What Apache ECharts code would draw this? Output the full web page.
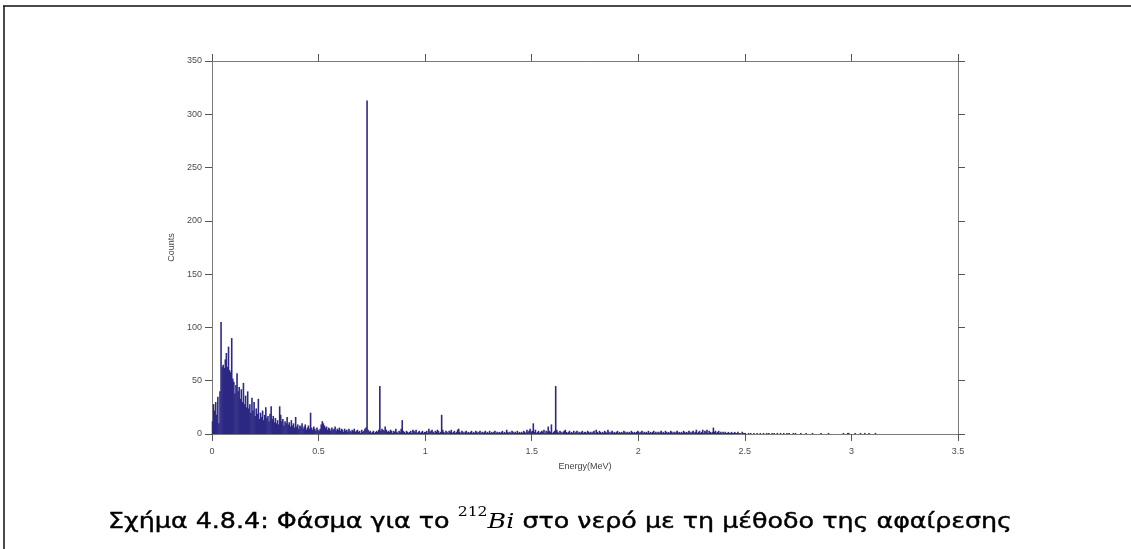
<!DOCTYPE html>
<html>
<head>
<meta charset="utf-8">
<script src="https://cdn.jsdelivr.net/npm/echarts@6/dist/echarts.min.js"></script>
<style>
  html, body { margin: 0; padding: 0; background: #ffffff; }
  #chart { width: 1131px; height: 549px; }
</style>
</head>
<body>
<div id="chart"></div>
<script>
// Bin width of the spectrum (MeV)
const binWidth = 0.005;

// Counts per 0.005 MeV bin, grouped by energy range (start energy given)
const counts000 = [ // 0.000 – 0.245
  12, 28, 22, 30, 18, 35, 10, 40, 105, 63,
  65, 62, 70, 76, 63, 82, 60, 58, 90, 52,
  49, 38, 46, 57, 40, 44, 33, 42, 30, 48,
  28, 36, 25, 40, 24, 28, 20, 34, 22, 30,
  17, 24, 19, 33, 14, 20, 16, 22, 13, 18
];
const counts025 = [ // 0.250 – 0.720
  25, 15, 17, 12, 19, 26, 14, 17, 11, 15,
  10, 13, 9, 26, 18, 12, 14, 8, 12, 10,
  16, 9, 11, 7, 13, 8, 10, 6, 16, 7,
  9, 5, 8, 7, 10, 5, 7, 9, 4, 6,
  8, 5, 20, 6, 4, 7, 5, 3, 6, 4,
  3, 5, 9, 12, 10, 8, 6, 7, 4, 6,
  5, 3, 6, 4, 5, 7, 3, 5, 4, 6,
  3, 5, 4, 2, 5, 3, 4, 2, 5, 3,
  2, 4, 3, 5, 2, 3, 4, 2, 3, 1,
  4, 2, 3, 5, 6
];
const counts0725 = [ // 0.725 – 0.995
  313, 4, 2, 3, 1, 2, 3, 1, 2, 3, 2,
  4, 45, 3, 5, 4, 3, 7, 4, 2, 3,
  2, 4, 3, 1, 3, 2, 5, 2, 1, 3,
  2, 5, 13, 3, 2, 1, 3, 2, 1, 2,
  3, 1, 4, 3, 2, 4, 1, 2, 3, 1,
  2, 3, 1, 2
];
const counts100 = [ // 1.000 – 1.495
  2, 3, 1, 5, 2, 3, 4, 2, 1, 3,
  2, 4, 3, 1, 2, 18, 4, 2, 1, 3,
  2, 1, 3, 2, 4, 1, 2, 3, 1, 2,
  4, 5, 2, 1, 3, 2, 1, 2, 3, 1,
  2, 1, 2, 3, 1, 2, 1, 3, 2, 1,
  2, 3, 1, 2, 1, 2, 3, 1, 2, 1,
  3, 1, 2, 1, 2, 3, 1, 2, 1, 2,
  1, 2, 3, 1, 2, 1, 4, 2, 1, 2,
  1, 3, 2, 1, 2, 1, 3, 1, 2, 1,
  2, 1, 3, 2, 1, 4, 2, 3, 5, 2
];
const counts150 = [ // 1.500 – 1.995
  3, 10, 2, 4, 1, 2, 3, 1, 2, 3,
  2, 4, 1, 3, 2, 7, 3, 2, 9, 1,
  2, 3, 45, 4, 2, 1, 3, 2, 1, 2,
  3, 4, 2, 1, 2, 3, 1, 2, 1, 3,
  1, 2, 3, 1, 2, 1, 2, 3, 1, 2,
  2, 1, 3, 2, 1, 2, 1, 2, 3, 1,
  4, 2, 1, 3, 2, 1, 2, 1, 3, 2,
  1, 4, 2, 1, 2, 3, 1, 2, 1, 2,
  3, 1, 2, 1, 2, 1, 3, 2, 1, 2,
  1, 2, 1, 3, 2, 1, 2, 1, 2, 3
];
const counts200 = [ // 2.000 – 2.495
  2, 1, 2, 3, 1, 2, 1, 2, 1, 3,
  1, 2, 1, 2, 3, 1, 2, 1, 2, 1,
  2, 3, 1, 2, 1, 3, 2, 1, 2, 1,
  3, 2, 1, 2, 1, 2, 3, 1, 2, 1,
  2, 1, 3, 2, 1, 2, 1, 3, 2, 1,
  2, 3, 1, 2, 4, 1, 2, 3, 1, 2,
  4, 1, 3, 2, 4, 1, 3, 2, 1, 2,
  6, 2, 3, 1, 2, 3, 1, 2, 1, 2,
  1, 2, 1, 1, 2, 1, 1, 2, 1, 1,
  2, 1, 1, 2, 1, 1, 0, 2, 1, 1
];
const counts250 = [ // 2.500 – 3.145
  1, 0, 0, 1, 0, 1, 0, 0, 1, 0,
  0, 1, 0, 0, 1, 0, 0, 1, 0, 0,
  1, 0, 1, 0, 0, 1, 0, 1, 0, 0,
  1, 0, 0, 1, 0, 0, 1, 0, 0, 1,
  0, 1, 0, 0, 0, 1, 0, 1, 0, 0,
  0, 0, 1, 0, 0, 0, 0, 1, 0, 0,
  0, 0, 0, 1, 0, 0, 0, 0, 0, 0,
  0, 1, 0, 0, 0, 0, 0, 0, 1, 0,
  0, 0, 0, 0, 0, 0, 0, 0, 0, 0,
  0, 0, 1, 0, 0, 0, 1, 1, 0, 0,
  0, 0, 0, 1, 0, 0, 0, 0, 1, 0,
  0, 0, 1, 0, 0, 0, 1, 0, 0, 0,
  0, 0, 1, 0, 0, 0, 0, 0, 0, 0
];
const segments = [
  { start: 0.000, counts: counts000 },
  { start: 0.250, counts: counts025 },
  { start: 0.725, counts: counts0725 },
  { start: 1.000, counts: counts100 },
  { start: 1.500, counts: counts150 },
  { start: 2.000, counts: counts200 },
  { start: 2.500, counts: counts250 }
];

const xTicks = { min: 0, max: 3.5, interval: 0.5 };
const yTicks = { min: 0, max: 350, interval: 50 };
const xName = 'Energy(MeV)';
const yName = 'Counts';
const captionParts = ['Σχήμα 4.8.4: Φάσμα για το ', '212', 'Bi', ' στο νερό με τη μέθοδο της αφαίρεσης'];

const spectrum = [];
segments.forEach(s => {
  s.counts.forEach((c, i) => {
    spectrum.push([+(s.start + (i + 0.5) * binWidth).toFixed(4), c]);
  });
});

// caption fonts and horizontal fit to the reference width
const capFonts = ['21px "DejaVu Sans"', '13px "DejaVu Serif"', 'italic 21px "DejaVu Serif"', '21px "DejaVu Sans"'];
const mctx = document.createElement('canvas').getContext('2d');
let capW = 0;
captionParts.forEach((p, i) => { mctx.font = capFonts[i]; capW += mctx.measureText(p).width; });
const capScale = 904 / capW;

const axisGray = '#7a7a7a';
const labelGray = '#4d4d4d';
const axisLabelFont = { fontFamily: 'Liberation Sans', fontSize: 9, color: labelGray };

const chart = echarts.init(document.getElementById('chart'), null, { renderer: 'canvas' });
chart.setOption({
  animation: false,
  backgroundColor: '#ffffff',
  grid: { left: 212, right: 173, top: 61, bottom: 115, containLabel: false },
  graphic: [
    { type: 'line', shape: { x1: 3, y1: 6, x2: 1131, y2: 6 }, style: { stroke: '#111', lineWidth: 1.5 } },
    { type: 'line', shape: { x1: 4, y1: 6, x2: 4, y2: 549 }, style: { stroke: '#111', lineWidth: 1.5 } },
    {
      type: 'text', x: 560, y: 520, scaleX: capScale,
      style: {
        text: '{t|' + captionParts[0] + '}{s|' + captionParts[1] + '}{b|' + captionParts[2] + '}{t|' + captionParts[3] + '}',
        align: 'center', verticalAlign: 'middle',
        rich: {
          t: { fontFamily: 'DejaVu Sans', fontSize: 21, fill: '#000', stroke: '#000', lineWidth: 0.4, lineHeight: 27, verticalAlign: 'bottom' },
          s: { fontFamily: 'DejaVu Serif', fontSize: 13, fill: '#000', lineHeight: 27, verticalAlign: 'top' },
          b: { fontFamily: 'DejaVu Serif', fontStyle: 'italic', fontSize: 21, fill: '#000', lineHeight: 27, verticalAlign: 'bottom' }
        }
      }
    }
  ],
  xAxis: [
    {
      type: 'value', position: 'bottom', min: xTicks.min, max: xTicks.max, interval: xTicks.interval,
      name: xName, nameLocation: 'middle', nameGap: 28,
      nameTextStyle: { fontFamily: 'Liberation Sans', fontSize: 9, color: '#444' },
      axisLine: { show: true, onZero: false, lineStyle: { color: axisGray, width: 1 } },
      axisTick: { show: true, inside: false, length: 7, lineStyle: { color: '#555' } },
      axisLabel: Object.assign({ margin: 13 }, axisLabelFont),
      splitLine: { show: false }
    },
    {
      type: 'value', position: 'top', min: xTicks.min, max: xTicks.max, interval: xTicks.interval,
      axisLine: { show: true, onZero: false, lineStyle: { color: axisGray, width: 1 } },
      axisTick: { show: true, inside: false, length: 7, lineStyle: { color: '#555' } },
      axisLabel: { show: false },
      splitLine: { show: false }
    }
  ],
  yAxis: [
    {
      type: 'value', position: 'left', min: yTicks.min, max: yTicks.max, interval: yTicks.interval,
      name: yName, nameLocation: 'middle', nameGap: 29, nameRotate: 90,
      nameTextStyle: { fontFamily: 'Liberation Sans', fontSize: 9, color: '#444' },
      axisLine: { show: true, onZero: false, lineStyle: { color: axisGray, width: 1 } },
      axisTick: { show: true, inside: false, length: 7, lineStyle: { color: '#555' } },
      axisLabel: Object.assign({ margin: 10 }, axisLabelFont),
      splitLine: { show: false }
    },
    {
      type: 'value', position: 'right', min: yTicks.min, max: yTicks.max, interval: yTicks.interval,
      axisLine: { show: true, onZero: false, lineStyle: { color: axisGray, width: 1 } },
      axisTick: { show: true, inside: false, length: 7, lineStyle: { color: '#555' } },
      axisLabel: { show: false },
      splitLine: { show: false }
    }
  ],
  series: [
    {
      type: 'bar',
      xAxisIndex: 0,
      yAxisIndex: 0,
      data: spectrum,
      barWidth: 1.6,
      itemStyle: { color: '#2c2883' },
      silent: true
    }
  ]
});
</script>
</body>
</html>
